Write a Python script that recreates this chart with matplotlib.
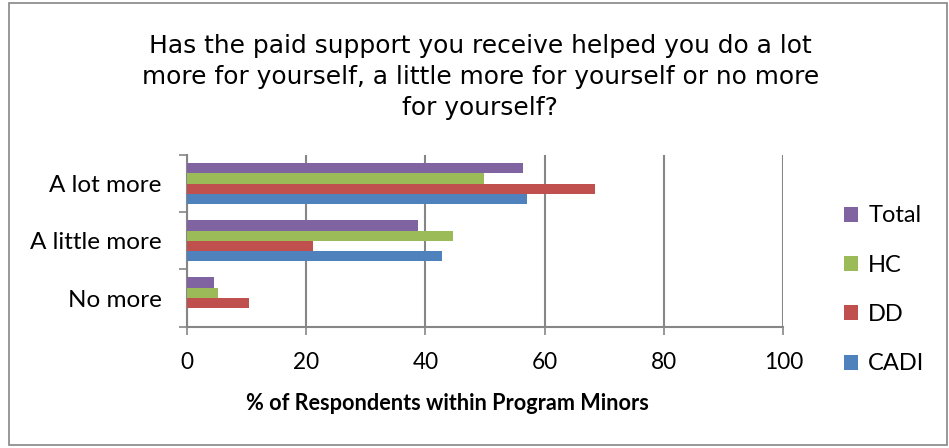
import matplotlib.pyplot as plt
from matplotlib.patches import Rectangle
import numpy as np

categories = ['No more', 'A little more', 'A lot more']
series_names = ['CADI', 'DD', 'HC', 'Total']
cadi = [0, 42.8, 57.0]
dd = [10.4, 21.1, 68.4]
hc = [5.2, 44.6, 49.9]
total = [4.6, 38.8, 56.3]
colors = ['#4f81bd', '#c0504d', '#9bbb59', '#8064a2']

title = ('Has the paid support you receive helped you do a lot\n'
         'more for yourself, a little more for yourself or no more\n'
         'for yourself?')

plt.rcParams['font.family'] = ['Lato', 'DejaVu Sans']

fig = plt.figure(figsize=(9.49, 4.48), dpi=100)
ax = fig.add_axes([0.1967, 0.2708, 0.6289, 0.3832])

y = np.arange(len(categories))
bar_h = 0.18
for i, (name, vals) in enumerate(zip(series_names, [cadi, dd, hc, total])):
    ax.barh(y + (i - 1.5) * bar_h, vals, height=bar_h, color=colors[i],
            label=name, zorder=3)

ax.set_xlim(0, 100)
ax.set_ylim(-0.5, 2.5)
ax.set_xticks(range(0, 101, 20))
ax.set_yticks(y)
ax.set_yticklabels(categories)
ax.set_yticks([-0.5, 0.5, 1.5, 2.5], minor=True)
ax.tick_params(axis='y', which='major', length=0, labelsize=17.5, pad=18)
ax.tick_params(axis='y', which='minor', length=6, color='#868686', width=1.2)
ax.tick_params(axis='x', length=6, color='#868686', width=1.2, labelsize=16.3, pad=12)
ax.xaxis.grid(True, color='#868686', linewidth=1.5, zorder=0)

for side in ['top', 'right']:
    ax.spines[side].set_visible(False)
for side in ['left', 'bottom']:
    ax.spines[side].set_color('#868686')
    ax.spines[side].set_linewidth(1.5)

fig.text(0.4715, 0.1, '% of Respondents within Program Minors',
         ha='center', va='center', fontsize=15.6, fontweight='bold')
fig.text(0.506, 0.828, title, ha='center', va='center', fontsize=17.9,
         family='DejaVu Sans', linespacing=1.36)

handles, labels = ax.get_legend_handles_labels()
fig.legend(handles[::-1], labels[::-1], loc='center left',
           bbox_to_anchor=(0.8665, 0.353), frameon=False, fontsize=17,
           handlelength=0.6, handleheight=0.6, labelspacing=1.2,
           handletextpad=0.45)

fig.patches.append(Rectangle((0.0095, 0.006), 0.988, 0.987,
                             transform=fig.transFigure, fill=False,
                             edgecolor='#868686', linewidth=1.2))

fig.savefig('out.png', dpi=100)
